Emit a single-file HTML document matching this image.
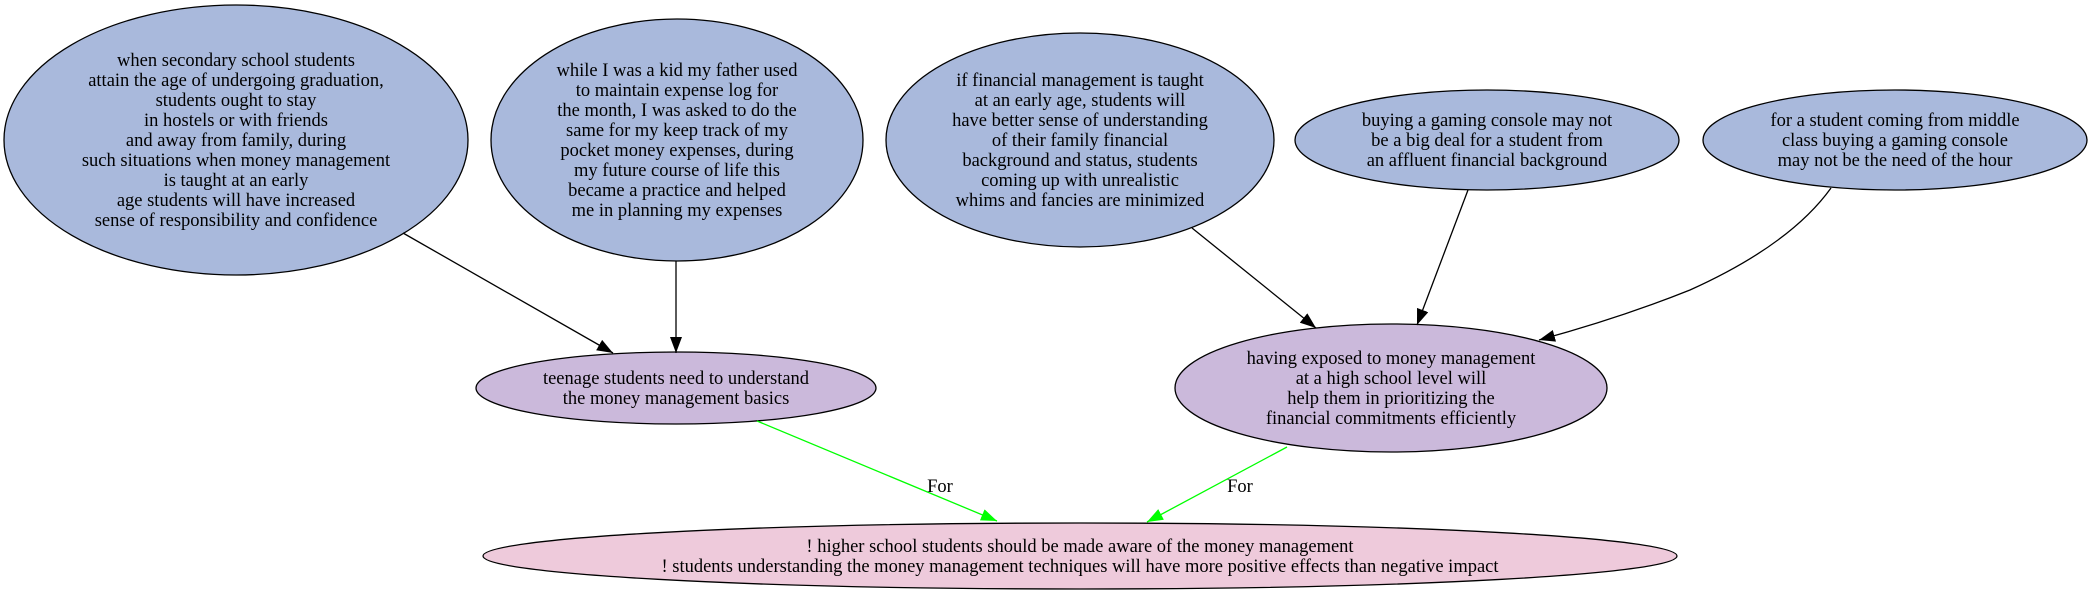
<!DOCTYPE html>
<html><head><meta charset="utf-8"><style>
html,body{margin:0;padding:0;background:#fff;}
svg{display:block;}
text{font-family:"Liberation Serif",serif;font-size:18.5px;fill:#000;}
</style></head><body>
<svg width="2090" height="598" viewBox="0 0 2090 598" xmlns="http://www.w3.org/2000/svg">
<defs>
<marker id="ag" markerWidth="16" markerHeight="12" refX="16" refY="6" orient="auto" markerUnits="userSpaceOnUse" viewBox="0 0 16 12"><path d="M0,0 L16,6 L0,12 z" fill="#0f0"/></marker>
<marker id="ak" markerWidth="16" markerHeight="12" refX="16" refY="6" orient="auto" markerUnits="userSpaceOnUse" viewBox="0 0 16 12"><path d="M0,0 L16,6 L0,12 z" fill="#000"/></marker>
</defs>
<g stroke="#000" stroke-width="1.3">
<ellipse cx="236" cy="140" rx="232" ry="135" fill="#a9b9dc"/>
<ellipse cx="677" cy="140" rx="186" ry="121" fill="#a9b9dc"/>
<ellipse cx="1080" cy="140" rx="194" ry="107" fill="#a9b9dc"/>
<ellipse cx="1487" cy="140" rx="192" ry="50" fill="#a9b9dc"/>
<ellipse cx="1895" cy="140" rx="192" ry="50" fill="#a9b9dc"/>
<ellipse cx="676" cy="388" rx="200" ry="36" fill="#cbb9db"/>
<ellipse cx="1391" cy="388" rx="216" ry="64" fill="#cbb9db"/>
<ellipse cx="1080" cy="556" rx="597" ry="33" fill="#eecadb"/>
</g>
<g fill="none" stroke-width="1.3">
<path d="M403,233 L613,353" stroke="#000" marker-end="url(#ak)"/>
<path d="M676,261 L676,353" stroke="#000" marker-end="url(#ak)"/>
<path d="M1192,228 L1316,328" stroke="#000" marker-end="url(#ak)"/>
<path d="M1468,190 L1417,325" stroke="#000" marker-end="url(#ak)"/>
<path d="M1831,188 Q1790,245 1690,290 Q1620,318 1539,340" stroke="#000" marker-end="url(#ak)"/>
<path d="M757,421 L997,521" stroke="#0f0" marker-end="url(#ag)"/>
<path d="M1287,447 L1147,522" stroke="#0f0" marker-end="url(#ag)"/>
</g>
<g text-anchor="middle">
<text x="940" y="492">For</text>
<text x="1240" y="492">For</text>
<text x="236" y="66"><tspan x="236" dy="0">when secondary school students</tspan><tspan x="236" dy="20">attain the age of undergoing graduation,</tspan><tspan x="236" dy="20">students ought to stay</tspan><tspan x="236" dy="20">in hostels or with friends</tspan><tspan x="236" dy="20">and away from family, during</tspan><tspan x="236" dy="20">such situations when money management</tspan><tspan x="236" dy="20">is taught at an early</tspan><tspan x="236" dy="20">age students will have increased</tspan><tspan x="236" dy="20">sense of responsibility and confidence</tspan></text>
<text x="677" y="76"><tspan x="677" dy="0">while I was a kid my father used</tspan><tspan x="677" dy="20">to maintain expense log for</tspan><tspan x="677" dy="20">the month, I was asked to do the</tspan><tspan x="677" dy="20">same for my keep track of my</tspan><tspan x="677" dy="20">pocket money expenses, during</tspan><tspan x="677" dy="20">my future course of life this</tspan><tspan x="677" dy="20">became a practice and helped</tspan><tspan x="677" dy="20">me in planning my expenses</tspan></text>
<text x="1080" y="86"><tspan x="1080" dy="0">if financial management is taught</tspan><tspan x="1080" dy="20">at an early age, students will</tspan><tspan x="1080" dy="20">have better sense of understanding</tspan><tspan x="1080" dy="20">of their family financial</tspan><tspan x="1080" dy="20">background and status, students</tspan><tspan x="1080" dy="20">coming up with unrealistic</tspan><tspan x="1080" dy="20">whims and fancies are minimized</tspan></text>
<text x="1487" y="126"><tspan x="1487" dy="0">buying a gaming console may not</tspan><tspan x="1487" dy="20">be a big deal for a student from</tspan><tspan x="1487" dy="20">an affluent financial background</tspan></text>
<text x="1895" y="126"><tspan x="1895" dy="0">for a student coming from middle</tspan><tspan x="1895" dy="20">class buying a gaming console</tspan><tspan x="1895" dy="20">may not be the need of the hour</tspan></text>
<text x="676" y="384"><tspan x="676" dy="0">teenage students need to understand</tspan><tspan x="676" dy="20">the money management basics</tspan></text>
<text x="1391" y="364"><tspan x="1391" dy="0">having exposed to money management</tspan><tspan x="1391" dy="20">at a high school level will</tspan><tspan x="1391" dy="20">help them in prioritizing the</tspan><tspan x="1391" dy="20">financial commitments efficiently</tspan></text>
<text x="1080" y="552"><tspan x="1080" dy="0">! higher school students should be made aware of the money management</tspan><tspan x="1080" dy="20">! students understanding the money management techniques will have more positive effects than negative impact</tspan></text>
</g>
</svg>
</body></html>
